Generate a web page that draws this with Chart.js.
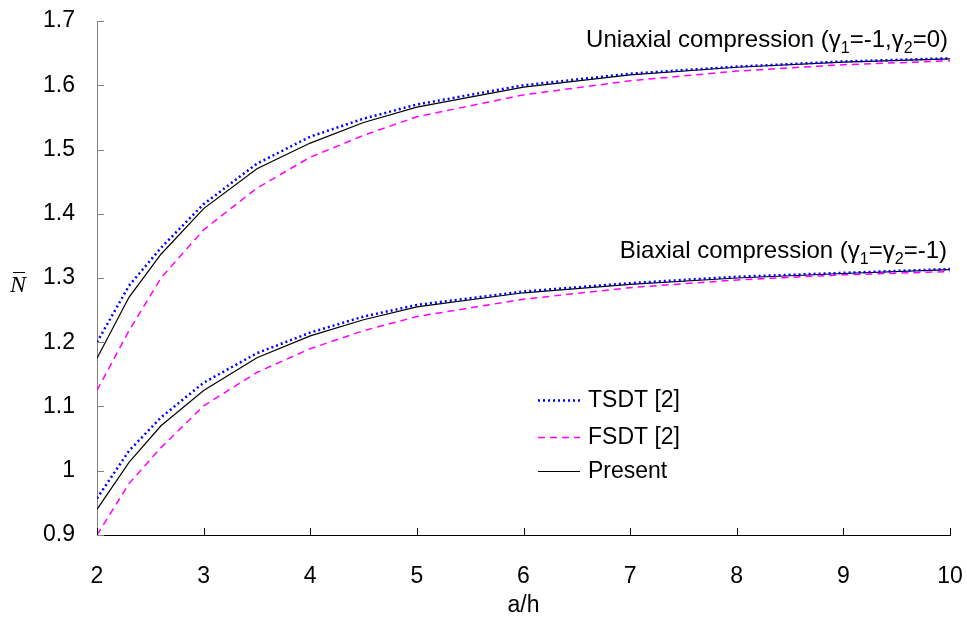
<!DOCTYPE html>
<html>
<head>
<meta charset="utf-8">
<script src="https://cdn.jsdelivr.net/npm/chart.js@4.4.1/dist/chart.umd.min.js"></script>
<style>
  html, body { margin: 0; padding: 0; background: #fff; }
  #wrap { width: 967px; height: 623px; }
</style>
</head>
<body>
<div id="wrap"><canvas id="chart"></canvas></div>
<script>
// a/h values where the curves were sampled
const aOverH = [2, 2.3, 2.6, 3, 3.5, 4, 4.5, 5, 6, 7, 8, 9, 10];

// Uniaxial compression (g1=-1, g2=0)
const uniTSDT    = [1.200, 1.288, 1.347, 1.415, 1.478, 1.520, 1.548, 1.570, 1.600, 1.618, 1.629, 1.637, 1.642];
const uniFSDT    = [1.125, 1.218, 1.300, 1.375, 1.440, 1.488, 1.522, 1.551, 1.585, 1.607, 1.622, 1.632, 1.638];
const uniPresent = [1.175, 1.270, 1.337, 1.408, 1.470, 1.510, 1.542, 1.566, 1.597, 1.616, 1.628, 1.636, 1.641];

// Biaxial compression (g1=g2=-1)
const biTSDT    = [0.957, 1.031, 1.083, 1.137, 1.183, 1.215, 1.240, 1.258, 1.279, 1.292, 1.302, 1.308, 1.314];
const biFSDT    = [0.900, 0.980, 1.036, 1.101, 1.153, 1.190, 1.218, 1.240, 1.267, 1.285, 1.297, 1.305, 1.310];
const biPresent = [0.940, 1.013, 1.070, 1.125, 1.176, 1.210, 1.235, 1.255, 1.277, 1.290, 1.300, 1.307, 1.313];

const xTicks = [2, 3, 4, 5, 6, 7, 8, 9, 10];
const yTicks = [0.9, 1, 1.1, 1.2, 1.3, 1.4, 1.5, 1.6, 1.7];

const FONT = '"Liberation Sans", Arial, sans-serif';
const FS = 23;

function pts(ys) {
    return aOverH.map((x, i) => ({ x: x, y: ys[i] }));
}

const tsdtStyle    = { borderColor: '#0000ff', borderWidth: 2.5, borderDash: [2, 3] };
const fsdtStyle    = { borderColor: '#ff00ff', borderWidth: 1.5, borderDash: [7, 5] };
const presentStyle = { borderColor: '#000000', borderWidth: 1.2, borderDash: [] };

function series(label, ys, style) {
    return Object.assign({
        label: label,
        data: pts(ys),
        pointRadius: 0,
        fill: false,
        tension: 0
    }, style);
}

// draws the overlays: inward ticks, N-bar title, curve notes and legend
const overlay = {
    id: 'overlay',
    afterDraw(chart) {
        const ctx = chart.ctx;
        const xs = chart.scales.x, ys = chart.scales.y;
        const area = chart.chartArea;
        ctx.save();

        // inward tick marks
        ctx.lineWidth = 1;
        ctx.strokeStyle = '#000';
        xTicks.forEach(v => {
            const px = Math.round(xs.getPixelForValue(v)) + 0.5;
            ctx.beginPath();
            ctx.moveTo(px, area.bottom);
            ctx.lineTo(px, area.bottom - 7);
            ctx.stroke();
        });
        ctx.strokeStyle = '#808080';
        yTicks.forEach(v => {
            const py = Math.round(ys.getPixelForValue(v)) + 0.5;
            ctx.beginPath();
            ctx.moveTo(area.left, py);
            ctx.lineTo(area.left + 7, py);
            ctx.stroke();
        });

        // y axis title: N with a bar
        ctx.fillStyle = '#000';
        ctx.font = 'italic 24px "Liberation Serif", "Times New Roman", serif';
        ctx.textAlign = 'center';
        ctx.textBaseline = 'alphabetic';
        const nx = 18, ny = 292;
        ctx.fillText('N', nx, ny);
        ctx.strokeStyle = '#000';
        ctx.lineWidth = 1;
        ctx.beginPath();
        ctx.moveTo(nx - 5, ny - 19.5);
        ctx.lineTo(nx + 7, ny - 19.5);
        ctx.stroke();

        // notes with subscripts, right aligned
        function note(parts, right, base) {
            const big = '24px ' + FONT, small = '16px ' + FONT;
            let w = 0;
            parts.forEach(p => { ctx.font = p[1] ? small : big; w += ctx.measureText(p[0]).width; });
            let x = right - w;
            ctx.textAlign = 'left';
            ctx.textBaseline = 'alphabetic';
            parts.forEach(p => {
                ctx.font = p[1] ? small : big;
                ctx.fillText(p[0], x, base + (p[1] ? 6 : 0));
                x += ctx.measureText(p[0]).width;
            });
        }
        note([['Uniaxial compression (', 0], ['\u03b3', 0], ['1', 1], ['=-1,', 0], ['\u03b3', 0], ['2', 1], ['=0)', 0]],
             area.right - 2, 47);
        note([['Biaxial compression (', 0], ['\u03b3', 0], ['1', 1], ['=', 0], ['\u03b3', 0], ['2', 1], ['=-1)', 0]],
             area.right - 3, 258);

        // legend from the first three datasets
        const rows = [400, 437, 471];
        chart.data.datasets.slice(0, 3).forEach((ds, i) => {
            const y = rows[i];
            ctx.strokeStyle = ds.borderColor;
            ctx.lineWidth = ds.borderWidth;
            ctx.setLineDash(ds.borderDash);
            ctx.beginPath();
            ctx.moveTo(538, y + 0.5);
            ctx.lineTo(580, y + 0.5);
            ctx.stroke();
            ctx.setLineDash([]);
            ctx.fillStyle = '#000';
            ctx.font = FS + 'px ' + FONT;
            ctx.textAlign = 'left';
            ctx.textBaseline = 'middle';
            ctx.fillText(ds.label, 588, y + 1);
        });

        ctx.restore();
    }
};

new Chart(document.getElementById('chart'), {
    type: 'line',
    data: {
        datasets: [
            series('TSDT [2]', uniTSDT, tsdtStyle),
            series('FSDT [2]', uniFSDT, fsdtStyle),
            series('Present', uniPresent, presentStyle),
            series('TSDT [2]', biTSDT, tsdtStyle),
            series('FSDT [2]', biFSDT, fsdtStyle),
            series('Present', biPresent, presentStyle)
        ]
    },
    options: {
        responsive: true,
        maintainAspectRatio: false,
        animation: false,
        layout: { padding: { left: 0, right: 17, top: 21, bottom: 0 } },
        plugins: {
            legend: { display: false },
            tooltip: { enabled: false }
        },
        scales: {
            x: {
                type: 'linear',
                min: 2,
                max: 10,
                afterBuildTicks: s => { s.ticks = xTicks.map(v => ({ value: v })); },
                afterFit: s => { s.height = 88; s.paddingLeft = 0; s.paddingRight = 0; },
                grid: { display: false, drawTicks: false },
                border: { display: true, color: '#000', width: 1 },
                ticks: { color: '#000', padding: 28, font: { family: FONT, size: FS } },
                title: { display: true, text: 'a/h', color: '#000', padding: { top: 2, bottom: 4 }, font: { family: FONT, size: FS } }
            },
            y: {
                type: 'linear',
                min: 0.9,
                max: 1.7,
                afterBuildTicks: s => { s.ticks = yTicks.map(v => ({ value: v })); },
                afterFit: s => { s.width = 97; s.paddingTop = 0; s.paddingBottom = 0; },
                grid: { display: false, drawTicks: false },
                border: { display: true, color: '#808080', width: 1 },
                ticks: { color: '#000', padding: 22, font: { family: FONT, size: FS }, callback: v => String(v) }
            }
        }
    },
    plugins: [overlay]
});
</script>
</body>
</html>
